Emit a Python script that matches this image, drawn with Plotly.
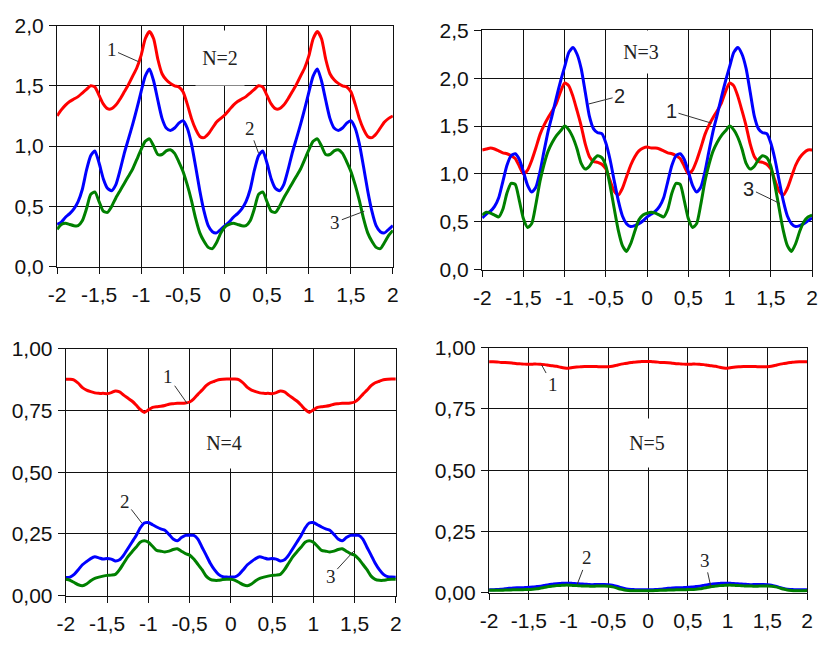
import plotly.graph_objects as go

# Sampling grid along the horizontal axis (-2 ... 2, step 0.05)
x = [round(-2 + 0.05 * i, 2) for i in range(81)]

# ---------- N = 2 ----------
n2_curve1 = [1.25, 1.30, 1.34, 1.37, 1.39, 1.41, 1.44, 1.47, 1.50, 1.49,
             1.42, 1.35, 1.31, 1.31, 1.34, 1.39, 1.45, 1.51, 1.58, 1.65,
             1.75, 1.89, 1.95, 1.89, 1.72, 1.60, 1.55, 1.52, 1.50, 1.49,
             1.45, 1.35, 1.23, 1.14, 1.08, 1.07, 1.10, 1.15, 1.20, 1.23,
             1.26,
             1.30, 1.34, 1.37, 1.39, 1.41, 1.44, 1.47, 1.50, 1.49, 1.42,
             1.35, 1.31, 1.31, 1.34, 1.39, 1.45, 1.51, 1.58, 1.65, 1.75,
             1.89, 1.95, 1.89, 1.72, 1.60, 1.55, 1.52, 1.50, 1.49, 1.45,
             1.35, 1.23, 1.14, 1.08, 1.07, 1.10, 1.15, 1.20, 1.23, 1.25]
n2_curve2 = [0.35, 0.37, 0.41, 0.44, 0.48, 0.54, 0.64, 0.80, 0.92, 0.96,
             0.86, 0.73, 0.65, 0.63, 0.68, 0.80, 0.94, 1.06, 1.18, 1.31,
             1.45, 1.58, 1.64, 1.54, 1.38, 1.23, 1.15, 1.13, 1.15, 1.19,
             1.21, 1.15, 1.02, 0.83, 0.63, 0.46, 0.34, 0.29, 0.28, 0.31,
             0.34,
             0.37, 0.41, 0.44, 0.48, 0.54, 0.64, 0.80, 0.92, 0.96, 0.86,
             0.73, 0.65, 0.63, 0.68, 0.80, 0.94, 1.06, 1.18, 1.31, 1.45,
             1.58, 1.64, 1.54, 1.38, 1.23, 1.15, 1.13, 1.15, 1.19, 1.21,
             1.15, 1.02, 0.83, 0.63, 0.46, 0.34, 0.29, 0.28, 0.31, 0.34]
n2_curve3 = [0.31, 0.35, 0.36, 0.35, 0.34, 0.34, 0.38, 0.48, 0.60, 0.62,
             0.54, 0.46, 0.45, 0.50, 0.57, 0.63, 0.69, 0.75, 0.81, 0.89,
             0.97, 1.04, 1.06, 1.00, 0.93, 0.93, 0.96, 0.97, 0.94, 0.87,
             0.79, 0.68, 0.55, 0.40, 0.28, 0.21, 0.16, 0.15, 0.20, 0.28,
             0.33,
             0.35, 0.36, 0.35, 0.34, 0.34, 0.38, 0.48, 0.60, 0.62, 0.54,
             0.46, 0.45, 0.50, 0.57, 0.63, 0.69, 0.75, 0.81, 0.89, 0.97,
             1.04, 1.06, 1.00, 0.93, 0.93, 0.96, 0.97, 0.94, 0.87, 0.79,
             0.68, 0.55, 0.40, 0.28, 0.21, 0.16, 0.15, 0.20, 0.26, 0.30]

# ---------- N = 3 ----------
n3_curve1 = [1.25, 1.26, 1.27, 1.26, 1.24, 1.22, 1.21, 1.19, 1.16, 1.08,
             1.00, 1.04, 1.14, 1.27, 1.41, 1.51, 1.59, 1.66, 1.74, 1.86,
             1.95, 1.92, 1.81, 1.66, 1.50, 1.31, 1.18, 1.13, 1.12, 1.10,
             1.05, 0.93, 0.82, 0.78, 0.85, 0.97, 1.09, 1.18, 1.24, 1.27,
             1.28,
             1.27, 1.27, 1.26, 1.24, 1.22, 1.21, 1.19, 1.16, 1.08, 1.00,
             1.04, 1.14, 1.27, 1.41, 1.51, 1.59, 1.66, 1.74, 1.86, 1.95,
             1.92, 1.81, 1.66, 1.50, 1.31, 1.18, 1.13, 1.12, 1.10, 1.05,
             0.93, 0.82, 0.78, 0.85, 0.97, 1.09, 1.17, 1.22, 1.25, 1.25]
n3_curve2 = [0.54, 0.58, 0.61, 0.66, 0.75, 0.92, 1.09, 1.19, 1.21, 1.15,
             1.02, 0.88, 0.81, 0.86, 1.02, 1.24, 1.45, 1.62, 1.80, 1.97,
             2.12, 2.27, 2.32, 2.25, 2.10, 1.85, 1.60, 1.47, 1.43, 1.42,
             1.32, 1.15, 0.93, 0.72, 0.56, 0.48, 0.45, 0.46, 0.48, 0.51,
             0.55,
             0.58, 0.61, 0.66, 0.75, 0.92, 1.09, 1.19, 1.21, 1.15, 1.02,
             0.88, 0.81, 0.86, 1.02, 1.24, 1.45, 1.62, 1.80, 1.97, 2.12,
             2.27, 2.32, 2.25, 2.10, 1.85, 1.60, 1.47, 1.43, 1.42, 1.32,
             1.15, 0.93, 0.72, 0.56, 0.48, 0.45, 0.46, 0.48, 0.51, 0.54]
n3_curve3 = [0.57, 0.60, 0.59, 0.57, 0.55, 0.63, 0.80, 0.90, 0.89, 0.72,
             0.53, 0.44, 0.48, 0.68, 0.92, 1.10, 1.24, 1.33, 1.40, 1.45,
             1.50, 1.46, 1.38, 1.26, 1.11, 1.05, 1.08, 1.15, 1.19, 1.17,
             1.08, 0.88, 0.64, 0.41, 0.25, 0.19, 0.27, 0.40, 0.52, 0.57,
             0.59,
             0.60, 0.59, 0.57, 0.55, 0.63, 0.80, 0.90, 0.89, 0.72, 0.53,
             0.44, 0.48, 0.68, 0.92, 1.10, 1.24, 1.33, 1.40, 1.45, 1.50,
             1.46, 1.38, 1.26, 1.11, 1.05, 1.08, 1.15, 1.19, 1.17, 1.08,
             0.88, 0.64, 0.41, 0.25, 0.19, 0.27, 0.40, 0.50, 0.55, 0.57]

# ---------- N = 4 ----------
n4_curve1 = [0.876, 0.876, 0.873, 0.860, 0.842, 0.832, 0.826, 0.821, 0.819, 0.819,
             0.818, 0.822, 0.829, 0.825, 0.812, 0.800, 0.788, 0.772, 0.754, 0.742,
             0.752, 0.762, 0.765, 0.767, 0.770, 0.775, 0.777, 0.779, 0.779, 0.780,
             0.784, 0.797, 0.815, 0.832, 0.850, 0.862, 0.868, 0.874, 0.876, 0.877,
             0.877,
             0.877, 0.874, 0.861, 0.843, 0.832, 0.826, 0.821, 0.819, 0.819, 0.818,
             0.822, 0.829, 0.825, 0.812, 0.800, 0.788, 0.772, 0.754, 0.742, 0.752,
             0.762, 0.765, 0.767, 0.770, 0.775, 0.777, 0.779, 0.779, 0.780, 0.784,
             0.797, 0.815, 0.832, 0.850, 0.862, 0.868, 0.874, 0.876, 0.877, 0.877]
n4_curve2 = [0.073, 0.075, 0.086, 0.105, 0.125, 0.138, 0.150, 0.157, 0.153, 0.148,
             0.150, 0.148, 0.140, 0.145, 0.164, 0.190, 0.216, 0.242, 0.274, 0.294,
             0.296, 0.287, 0.278, 0.270, 0.265, 0.248, 0.229, 0.222, 0.235, 0.244,
             0.244, 0.244, 0.229, 0.196, 0.164, 0.131, 0.105, 0.086, 0.077, 0.075,
             0.075,
             0.076, 0.086, 0.105, 0.125, 0.138, 0.150, 0.157, 0.153, 0.148, 0.150,
             0.148, 0.140, 0.145, 0.164, 0.190, 0.216, 0.242, 0.274, 0.294, 0.296,
             0.287, 0.278, 0.270, 0.265, 0.248, 0.229, 0.222, 0.235, 0.244, 0.244,
             0.244, 0.229, 0.196, 0.164, 0.131, 0.105, 0.086, 0.077, 0.075, 0.074]
n4_curve3 = [0.066, 0.062, 0.053, 0.044, 0.040, 0.047, 0.060, 0.070, 0.075, 0.079,
             0.082, 0.083, 0.086, 0.105, 0.131, 0.157, 0.177, 0.196, 0.216, 0.222,
             0.216, 0.200, 0.183, 0.180, 0.177, 0.180, 0.187, 0.190, 0.180, 0.170,
             0.164, 0.148, 0.127, 0.105, 0.079, 0.066, 0.062, 0.062, 0.065, 0.066,
             0.066,
             0.062, 0.053, 0.044, 0.040, 0.047, 0.060, 0.070, 0.075, 0.079, 0.082,
             0.083, 0.086, 0.105, 0.131, 0.157, 0.177, 0.196, 0.216, 0.222, 0.216,
             0.200, 0.183, 0.180, 0.177, 0.180, 0.187, 0.190, 0.180, 0.170, 0.164,
             0.148, 0.127, 0.105, 0.079, 0.066, 0.062, 0.062, 0.065, 0.066, 0.066]

# ---------- N = 5 ----------
n5_curve1 = [0.943, 0.943, 0.942, 0.940, 0.940, 0.939, 0.937, 0.935, 0.934, 0.933,
             0.933, 0.933, 0.933, 0.932, 0.931, 0.928, 0.926, 0.924, 0.920, 0.917,
             0.916, 0.919, 0.921, 0.922, 0.923, 0.923, 0.923, 0.923, 0.922, 0.922,
             0.922, 0.924, 0.928, 0.932, 0.935, 0.938, 0.940, 0.942, 0.943, 0.944,
             0.944,
             0.943, 0.942, 0.940, 0.940, 0.939, 0.937, 0.935, 0.934, 0.933, 0.933,
             0.933, 0.933, 0.932, 0.931, 0.928, 0.926, 0.924, 0.920, 0.917, 0.916,
             0.919, 0.921, 0.922, 0.923, 0.923, 0.923, 0.923, 0.922, 0.922, 0.922,
             0.924, 0.928, 0.932, 0.935, 0.938, 0.940, 0.942, 0.943, 0.943, 0.943]
n5_curve2 = [0.012, 0.012, 0.013, 0.014, 0.016, 0.018, 0.019, 0.020, 0.020, 0.021,
             0.022, 0.023, 0.025, 0.027, 0.030, 0.033, 0.035, 0.037, 0.038, 0.039,
             0.039, 0.038, 0.037, 0.036, 0.035, 0.034, 0.033, 0.034, 0.034, 0.034,
             0.033, 0.031, 0.027, 0.022, 0.017, 0.014, 0.013, 0.012, 0.012, 0.012,
             0.012,
             0.012, 0.013, 0.014, 0.016, 0.018, 0.019, 0.020, 0.020, 0.021, 0.022,
             0.023, 0.025, 0.027, 0.030, 0.033, 0.035, 0.037, 0.038, 0.039, 0.039,
             0.038, 0.037, 0.036, 0.035, 0.034, 0.033, 0.034, 0.034, 0.034, 0.033,
             0.031, 0.027, 0.022, 0.017, 0.014, 0.013, 0.012, 0.012, 0.012, 0.012]
n5_curve3 = [0.010, 0.010, 0.010, 0.010, 0.011, 0.011, 0.012, 0.012, 0.012, 0.013,
             0.013, 0.014, 0.016, 0.019, 0.022, 0.025, 0.027, 0.029, 0.030, 0.031,
             0.031, 0.030, 0.029, 0.028, 0.027, 0.027, 0.026, 0.027, 0.027, 0.027,
             0.026, 0.024, 0.020, 0.015, 0.011, 0.009, 0.008, 0.008, 0.008, 0.008,
             0.008,
             0.008, 0.009, 0.010, 0.010, 0.011, 0.011, 0.012, 0.012, 0.012, 0.013,
             0.013, 0.014, 0.016, 0.019, 0.022, 0.025, 0.027, 0.029, 0.030, 0.031,
             0.031, 0.030, 0.029, 0.028, 0.027, 0.027, 0.026, 0.027, 0.027, 0.027,
             0.026, 0.024, 0.020, 0.015, 0.011, 0.009, 0.008, 0.008, 0.008, 0.009]

x_tickvals = [-2, -1.5, -1, -0.5, 0, 0.5, 1, 1.5, 2]
x_ticktext = ["-2", "-1,5", "-1", "-0,5", "0", "0,5", "1", "1,5", "2"]
y_ticks_n2 = [0, 0.5, 1.0, 1.5, 2.0]
y_text_n2 = ["0,0", "0,5", "1,0", "1,5", "2,0"]
y_ticks_n3 = [0, 0.5, 1.0, 1.5, 2.0, 2.5]
y_text_n3 = ["0,0", "0,5", "1,0", "1,5", "2,0", "2,5"]
y_ticks_n45 = [0, 0.25, 0.5, 0.75, 1.0]
y_text_n45 = ["0,00", "0,25", "0,50", "0,75", "1,00"]

panel_titles = ["N=2", "N=3", "N=4", "N=5"]
colors = ["#ff0000", "#0000ff", "#008000"]

panels = [
    (n2_curve1, n2_curve2, n2_curve3),
    (n3_curve1, n3_curve2, n3_curve3),
    (n4_curve1, n4_curve2, n4_curve3),
    (n5_curve1, n5_curve2, n5_curve3),
]

fig = go.Figure()
for p, curves in enumerate(panels):
    suffix = "" if p == 0 else str(p + 1)
    for c, ys in enumerate(curves):
        fig.add_trace(go.Scatter(
            x=x, y=ys, mode="lines",
            line=dict(color=colors[c], width=3, shape="spline", smoothing=0.6),
            xaxis="x" + suffix, yaxis="y" + suffix, showlegend=False,
            hoverinfo="skip",
        ))

W, H = 824, 651
# plot areas in pixels: (left, right, top, bottom)
boxes = [(49, 391, 14, 264), (482, 818, 19, 267), (58, 394, 349, 605), (489, 813, 348, 602)]
y_ranges = [[0, 2.0], [0, 2.5], [0, 1.0], [0, 1.0]]
y_ticks = [(y_ticks_n2, y_text_n2), (y_ticks_n3, y_text_n3),
           (y_ticks_n45, y_text_n45), (y_ticks_n45, y_text_n45)]

tick_font = dict(family="Liberation Sans, Arial, sans-serif", size=21, color="#111")
common = dict(showline=True, mirror=True, linecolor="#111", linewidth=1.4,
              showgrid=True, gridcolor="#111", gridwidth=1.4, zeroline=False,
              ticks="outside", tickcolor="#111", tickwidth=1.4,
              tickfont=tick_font, fixedrange=True)

layout = dict(width=W, height=H, margin=dict(l=0, r=0, t=0, b=0),
              paper_bgcolor="white", plot_bgcolor="white")
for p, (l, r, t, b) in enumerate(boxes):
    suffix = "" if p == 0 else str(p + 1)
    layout["xaxis" + suffix] = dict(
        common, domain=[l / W, r / W], range=[-2, 2], ticklen=6,
        tickvals=x_tickvals, ticktext=x_ticktext, ticklabelstandoff=3,
        anchor="y" + suffix)
    layout["yaxis" + suffix] = dict(
        common, domain=[1 - b / H, 1 - t / H], range=y_ranges[p], ticklen=7,
        tickvals=y_ticks[p][0], ticktext=y_ticks[p][1], ticklabelstandoff=1,
        anchor="x" + suffix)
fig.update_layout(**layout)

serif = "Liberation Serif, Times New Roman, serif"
sans = "Liberation Sans, Arial, sans-serif"

# panel captions on a white box that interrupts the central grid line
captions = [
    ("x", "y", -0.06, 1.73, 46, 52),
    ("x2", "y2", -0.08, 2.27, 46, 40),
    ("x3", "y3", -0.08, 0.617, 46, 48),
    ("x4", "y4", -0.01, 0.61, 46, 46),
]
for (xr, yr, cx, cy, w, h), txt in zip(captions, panel_titles):
    fig.add_annotation(xref=xr, yref=yr, x=cx, y=cy, text=txt, showarrow=False,
                       font=dict(family=serif, size=20, color="#222"),
                       bgcolor="white", width=w, height=h)

# curve numbers with leader lines
labels = [
    ("x", "y", -1.03, 1.70, -27, -12, "1", serif),
    ("x", "y", 0.40, 0.94, -9, -25, "2", serif),
    ("x", "y", 1.66, 0.46, -29, 11, "3", serif),
    ("x2", "y2", -0.71, 1.73, 31, -8, "2", sans),
    ("x2", "y2", 0.78, 1.53, -40, -12, "1", sans),
    ("x2", "y2", 1.61, 0.69, -31, -15, "3", sans),
    ("x3", "y3", -0.53, 0.778, -19, -27, "1", serif),
    ("x3", "y3", -1.08, 0.294, -17, -22, "2", serif),
    ("x3", "y3", 1.49, 0.18, -23, 25, "3", serif),
    ("x4", "y4", -1.34, 0.930, 11, 20, "1", serif),
    ("x4", "y4", -0.89, 0.036, 10, -26, "2", serif),
    ("x4", "y4", 0.79, 0.022, -6, -27, "3", serif),
]
for xr, yr, lx, ly, ax, ay, txt, fam in labels:
    fig.add_annotation(xref=xr, yref=yr, x=lx, y=ly, ax=ax, ay=ay, text=txt,
                       showarrow=True, arrowhead=0, arrowwidth=1, arrowcolor="#333",
                       standoff=0, startstandoff=0,
                       font=dict(family=fam, size=20 if fam == sans else 19, color="#222"))

fig.write_html("out.html", config={"displayModeBar": False})
